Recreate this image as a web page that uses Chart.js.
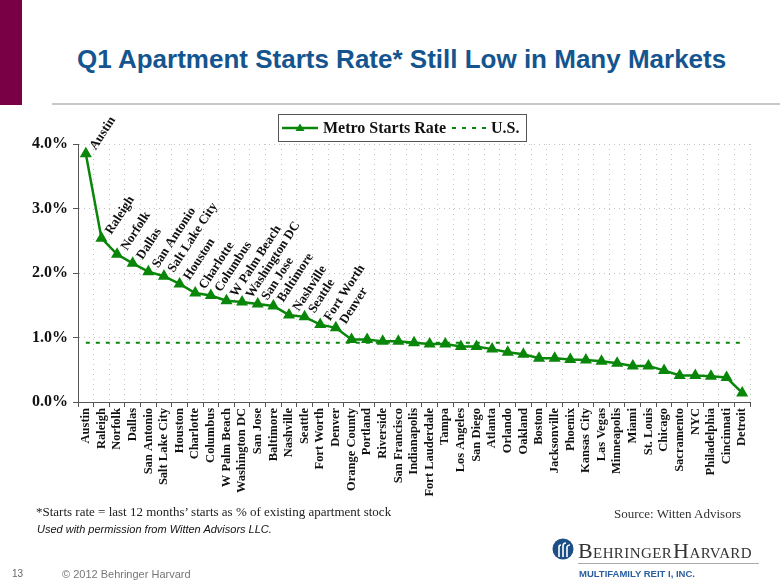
<!DOCTYPE html>
<html>
<head>
<meta charset="utf-8">
<script src="https://cdn.jsdelivr.net/npm/chart.js@4"></script>
<style>
  body { margin: 0; background: #fff; }
  #page { position: relative; width: 780px; height: 585px; overflow: hidden; background: #fff; }
  #bar { position: absolute; left: 0; top: 0; width: 22px; height: 105px; background: #7a0046; }
  #rule { position: absolute; left: 52px; top: 103px; width: 728px; height: 2px; background: #c8c8c8; }
  #title { position: absolute; left: 77px; top: 44px; white-space: nowrap;
    font: bold 26px "Liberation Sans", Arial, sans-serif; color: #15558f; }
  canvas { position: absolute; left: 0; top: 0; }
  .txt { position: absolute; white-space: nowrap; }
  #note { left: 36px; top: 504px; font: 13px "Liberation Serif", serif; color: #222; }
  #perm { left: 37px; top: 523px; font: italic 11px "Liberation Sans", Arial, sans-serif; color: #111; }
  #source { left: 614px; top: 506px; font: 13px "Liberation Serif", serif; color: #333; }
  #pnum { left: 12px; top: 568px; font: 10px "Liberation Sans", Arial, sans-serif; color: #666; }
  #copy { left: 62px; top: 568px; font: 11px "Liberation Sans", Arial, sans-serif; color: #777; }
  #logo { left: 578px; top: 538px; font: 22px "Liberation Serif", serif; color: #333; letter-spacing: 0.4px; font-variant: small-caps; }
  #logoline { position: absolute; left: 578px; top: 563px; width: 181px; height: 1px; background: #aaa; }
  #reit { left: 579px; top: 568px; font: bold 9.5px "Liberation Sans", Arial, sans-serif; color: #2a5f9e; }
  #icon { position: absolute; left: 552px; top: 538px; }
</style>
</head>
<body>
<div id="page">
  <div id="bar"></div>
  <div id="title">Q1 Apartment Starts Rate* Still Low in Many Markets</div>
  <div id="rule"></div>
  <canvas id="startsChart" width="780" height="585"></canvas>
  <div class="txt" id="note">*Starts rate = last 12 months’ starts as % of existing apartment stock</div>
  <div class="txt" id="perm">Used with permission from Witten Advisors LLC.</div>
  <div class="txt" id="source">Source:  Witten Advisors</div>
  <div class="txt" id="pnum">13</div>
  <div class="txt" id="copy">© 2012 Behringer Harvard</div>
  <svg id="icon" width="22" height="22" viewBox="0 0 22 22">
    <circle cx="11" cy="11" r="10.5" fill="#1d4f86"/>
    <path d="M7 19 V9 a2 2 0 0 1 2 -2 M11 19 V8 a3 3 0 0 1 3 -3 M15 19 V9 a3 3 0 0 1 3 -2" stroke="#fff" stroke-width="1.6" fill="none"/>
  </svg>
  <div class="txt" id="logo">Behringer<span style="margin-left:1px">Harvard</span></div>
  <div id="logoline"></div>
  <div class="txt" id="reit">MULTIFAMILY REIT I, INC.</div>
</div>
<script>
// marchés et taux de mises en chantier
const metros = [
  "Austin", "Raleigh", "Norfolk", "Dallas", "San Antonio", "Salt Lake City",
  "Houston", "Charlotte", "Columbus", "W Palm Beach", "Washington DC", "San Jose",
  "Baltimore", "Nashville", "Seattle", "Fort Worth", "Denver", "Orange County",
  "Portland", "Riverside", "San Francisco", "Indianapolis", "Fort Lauderdale",
  "Tampa", "Los Angeles", "San Diego", "Atlanta", "Orlando", "Oakland", "Boston",
  "Jacksonville", "Phoenix", "Kansas City", "Las Vegas", "Minneapolis", "Miami",
  "St. Louis", "Chicago", "Sacramento", "NYC", "Philadelphia", "Cincinnati", "Detroit"
];
const metroRates = [
  3.85, 2.54, 2.29, 2.15, 2.02, 1.95,
  1.83, 1.69, 1.65, 1.57, 1.55, 1.52,
  1.49, 1.35, 1.32, 1.20, 1.15, 0.97,
  0.97, 0.94, 0.94, 0.92, 0.90,
  0.90, 0.86, 0.86, 0.82, 0.77, 0.74, 0.68,
  0.68, 0.66, 0.65, 0.63, 0.60, 0.56,
  0.56, 0.49, 0.41, 0.41, 0.40, 0.38, 0.14
];
const usRate = 0.92;
const labeledCount = 17; // seuls les 17 premiers marchés ont une étiquette
const yTicks = [0, 1, 2, 3, 4];

const green = "#0a870a";
const serif = "'Liberation Serif', 'Times New Roman', serif";

const pointLabels = {
  id: "pointLabels",
  afterDatasetsDraw(chart) {
    const ctx = chart.ctx;
    const meta = chart.getDatasetMeta(0);
    ctx.save();
    ctx.font = "bold 13px " + serif;
    ctx.fillStyle = "#111";
    ctx.textAlign = "left";
    ctx.textBaseline = "middle";
    for (let i = 0; i < labeledCount; i++) {
      const pt = meta.data[i];
      ctx.save();
      ctx.translate(pt.x + 7, pt.y - 5);
      ctx.rotate(-57 * Math.PI / 180);
      ctx.fillText(metros[i], 0, 0);
      ctx.restore();
    }
    ctx.restore();
  }
};

const boxLegend = {
  id: "boxLegend",
  afterDraw(chart) {
    const ctx = chart.ctx;
    ctx.save();
    ctx.strokeStyle = "#555";
    ctx.lineWidth = 1;
    ctx.strokeRect(278.5, 114.5, 248, 27);
    // série métro
    ctx.strokeStyle = green;
    ctx.lineWidth = 2.5;
    ctx.beginPath();
    ctx.moveTo(282, 128);
    ctx.lineTo(318, 128);
    ctx.stroke();
    ctx.fillStyle = green;
    ctx.beginPath();
    ctx.moveTo(300, 123.5);
    ctx.lineTo(304.5, 131);
    ctx.lineTo(295.5, 131);
    ctx.closePath();
    ctx.fill();
    // série US
    ctx.lineWidth = 2;
    ctx.setLineDash([4, 6]);
    ctx.beginPath();
    ctx.moveTo(452, 128);
    ctx.lineTo(488, 128);
    ctx.stroke();
    ctx.setLineDash([]);
    ctx.fillStyle = "#111";
    ctx.font = "bold 16px " + serif;
    ctx.textBaseline = "middle";
    ctx.fillText("Metro Starts Rate", 323, 129);
    ctx.fillText("U.S.", 491, 129);
    ctx.restore();
  }
};

new Chart(document.getElementById("startsChart"), {
  type: "line",
  data: {
    labels: metros,
    datasets: [
      {
        label: "Metro Starts Rate",
        data: metroRates,
        borderColor: green,
        backgroundColor: green,
        borderWidth: 2.5,
        pointStyle: "triangle",
        pointRadius: 4.5,
        pointBackgroundColor: green,
        pointBorderColor: green,
        tension: 0,
      },
      {
        label: "U.S.",
        data: [
          { x: metros[0], y: usRate },
          { x: metros[metros.length - 1], y: usRate },
        ],
        borderColor: green,
        borderWidth: 2,
        borderDash: [4, 6],
        pointRadius: 0,
      },
    ],
  },
  options: {
    responsive: false,
    devicePixelRatio: 1,
    animation: false,
    layout: { padding: { top: 144, right: 30, left: 0, bottom: 0 } },
    plugins: {
      legend: { display: false },
      tooltip: { enabled: false },
    },
    scales: {
      x: {
        offset: true,
        grid: {
          offset: true,
          color: "#c4c4c4",
          lineWidth: 1,
          tickLength: 5,
          tickColor: "#555",
        },
        border: { color: "#555", width: 1, dash: [1, 4] },
        ticks: {
          autoSkip: false,
          maxRotation: 90,
          minRotation: 90,
          padding: 1,
          color: "#111",
          font: { family: serif, size: 12.5, weight: "bold" },
        },
        afterFit(scale) { scale.height = 183; },
      },
      y: {
        min: 0,
        max: 4,
        afterBuildTicks(scale) { scale.ticks = yTicks.map(v => ({ value: v })); },
        grid: {
          color: "#c4c4c4",
          lineWidth: 1,
          tickLength: 5,
          tickColor: "#555",
        },
        border: { color: "#555", width: 1, dash: [1, 4] },
        ticks: {
          padding: 5,
          color: "#111",
          font: { family: serif, size: 16, weight: "bold" },
          callback: v => v.toFixed(1) + "%",
        },
        afterFit(scale) { scale.width = 78; },
      },
    },
  },
  plugins: [pointLabels, boxLegend],
});
</script>
</body>
</html>
